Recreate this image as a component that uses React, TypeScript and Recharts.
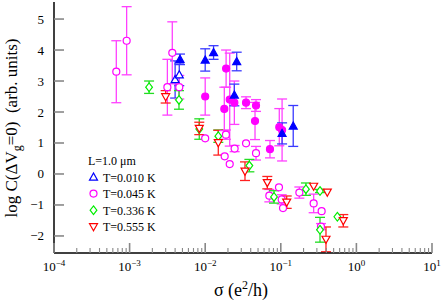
import React from 'react';
import { ScatterChart, Scatter, XAxis, YAxis, ErrorBar } from 'recharts';

type P = { x: number; y: number; e: number };

// T = 0.010 K (open = legend sample, filled = second data set)
const t010Open: P[] = [
  { x: 0.004, y: 3.05, e: 0.6 },
  { x: 0.00454, y: 3.2, e: 0.35 },
];
const t010Filled: P[] = [
  { x: 0.00464, y: 3.7, e: 0.17 },
  { x: 0.01, y: 3.68, e: 0.36 },
  { x: 0.0129, y: 3.92, e: 0.22 },
  { x: 0.0261, y: 3.63, e: 0.3 },
  { x: 0.0243, y: 2.55, e: 0.35 },
  { x: 0.104, y: 1.31, e: 0.34 },
  { x: 0.146, y: 1.55, e: 0.66 },
];
// T = 0.045 K
const t045Open: P[] = [
  { x: 0.000667, y: 3.3, e: 1.0 },
  { x: 0.000914, y: 4.3, e: 1.1 },
  { x: 0.00316, y: 2.8, e: 0.9 },
  { x: 0.00367, y: 3.91, e: 1.0 },
  { x: 0.00454, y: 2.8, e: 0.38 },
  { x: 0.01, y: 1.15, e: 0 },
  { x: 0.0188, y: 1.27, e: 0.15 },
  { x: 0.0181, y: 0.57, e: 0 },
  { x: 0.0211, y: 0.32, e: 0 },
  { x: 0.0245, y: 0.82, e: 0.1 },
  { x: 0.0347, y: 0.99, e: 0 },
  { x: 0.047, y: 0.67, e: 0.22 },
  { x: 0.0705, y: -0.7, e: 0.2 },
  { x: 0.0946, y: -0.43, e: 0 },
  { x: 0.1028, y: -0.82, e: 0.15 },
  { x: 0.107, y: -1.1, e: 0 },
  { x: 0.176, y: -0.6, e: 0.18 },
  { x: 0.272, y: -0.95, e: 0.3 },
  { x: 0.347, y: -1.2, e: 0 },
  { x: 0.34, y: -1.7, e: 0.1 },
];
const t045Filled: P[] = [
  { x: 0.01, y: 2.5, e: 0.6 },
  { x: 0.0189, y: 3.4, e: 0.6 },
  { x: 0.0179, y: 2.1, e: 0.7 },
  { x: 0.0211, y: 2.4, e: 1.5 },
  { x: 0.0243, y: 2.3, e: 0.7 },
  { x: 0.0347, y: 2.3, e: 0.19 },
  { x: 0.047, y: 2.21, e: 0.19 },
  { x: 0.0456, y: 1.71, e: 0.6 },
  { x: 0.0719, y: 0.8, e: 0.28 },
  { x: 0.0955, y: 1.51, e: 0.6 },
  { x: 0.104, y: 1.42, e: 1.0 },
];
// T = 0.336 K
const t336: P[] = [
  { x: 0.00181, y: 2.8, e: 0.2 },
  { x: 0.0045, y: 2.39, e: 0.3 },
  { x: 0.00835, y: 1.45, e: 0.33 },
  { x: 0.0149, y: 1.22, e: 0.2 },
  { x: 0.0384, y: 0.27, e: 0.2 },
  { x: 0.0813, y: -0.74, e: 0.2 },
  { x: 0.215, y: -0.49, e: 0.2 },
  { x: 0.33, y: -0.55, e: 0.05 },
  { x: 0.33, y: -1.8, e: 0.4 },
  { x: 0.56, y: -1.38, e: 0 },
];
// T = 0.555 K
const t555: P[] = [
  { x: 0.003, y: 2.49, e: 0.2 },
  { x: 0.00835, y: 1.47, e: 0.2 },
  { x: 0.0149, y: 1.01, e: 0.4 },
  { x: 0.0336, y: 0.09, e: 0.3 },
  { x: 0.0663, y: -0.28, e: 0.2 },
  { x: 0.1197, y: -0.91, e: 0.2 },
  { x: 0.272, y: -0.4, e: 0 },
  { x: 0.412, y: -0.59, e: 0 },
  { x: 0.396, y: -2.11, e: 0.4 },
  { x: 0.671, y: -1.51, e: 0.2 },
];

const xMajorTicks = [1e-4, 1e-3, 1e-2, 1e-1, 1, 10];
const xTickExponents = ['−4', '−3', '−2', '−1', '0', '1'];
const yTicks = [-2, -1, 0, 1, 2, 3, 4, 5];
const legendTitle = 'L=1.0 μm';
const legendLabels = ['T=0.010 K', 'T=0.045 K', 'T=0.336 K', 'T=0.555 K'];

const BLUE = '#0000ff';
const MAGENTA = '#ff00ff';
const GREEN = '#00ee00';
const RED = '#ff0000';
const FONT = '"Liberation Serif", "DejaVu Serif", serif';
const TICK = '#888888';

const xAllTicks: number[] = [];
xMajorTicks.forEach((m, i) => {
  xAllTicks.push(m);
  if (i < xMajorTicks.length - 1) for (let k = 2; k <= 9; k++) xAllTicks.push(m * k);
});

const majorIndex = (v: number) =>
  xMajorTicks.findIndex((m) => Math.abs(Math.log10(v) - Math.log10(m)) < 1e-6);

const XTick = (props: any) => {
  const { x, y, payload } = props;
  const idx = majorIndex(payload.value);
  const major = idx >= 0;
  return (
    <g>
      <line x1={x} x2={x} y1={y} y2={y - (major ? 10 : 5)} stroke={TICK} strokeWidth={major ? 1.6 : 1.1} />
      {major && (
        <text x={x} y={y + 18} textAnchor="middle" fontFamily={FONT} fontSize={13} fill="#000">
          <tspan>10</tspan>
          <tspan dy={-5} fontSize={9}>{xTickExponents[idx]}</tspan>
        </text>
      )}
    </g>
  );
};

const fmtY = (v: number) => (v < 0 ? '−' + Math.abs(v) : String(v));

const YTickL = (props: any) => {
  const { x, y, payload } = props;
  return (
    <g>
      <line x1={x} x2={x + 10} y1={y} y2={y} stroke={TICK} strokeWidth={1.6} />
      <text x={x - 10} y={y + 4.5} textAnchor="end" fontFamily={FONT} fontSize={13} fill="#000">
        {fmtY(payload.value)}
      </text>
    </g>
  );
};

const YTickR = (props: any) => {
  const { x, y } = props;
  return <line x1={x} x2={x - 10} y1={y} y2={y} stroke={TICK} strokeWidth={1.6} />;
};

const triUp = (cx: number, cy: number, s = 4) =>
  `${cx},${cy - s} ${cx - s},${cy + s * 0.78} ${cx + s},${cy + s * 0.78}`;
const triDown = (cx: number, cy: number, s = 4) =>
  `${cx - s},${cy - s * 0.78} ${cx + s},${cy - s * 0.78} ${cx},${cy + s}`;
const diamond = (cx: number, cy: number, s = 4.3) =>
  `${cx},${cy - s} ${cx + s * 0.78},${cy} ${cx},${cy + s} ${cx - s * 0.78},${cy}`;

const Marker = ({ kind, color, filled, cx, cy }: any) => {
  if (cx == null || cy == null) return null;
  const fill = filled ? color : '#fff';
  if (kind === 'circle')
    return <circle cx={cx} cy={cy} r={3.5} fill={fill} stroke={color} strokeWidth={1.2} />;
  if (kind === 'up')
    return <polygon points={triUp(cx, cy)} fill={fill} stroke={color} strokeWidth={1.2} />;
  if (kind === 'down')
    return <polygon points={triDown(cx, cy)} fill={fill} stroke={color} strokeWidth={1.2} />;
  return <polygon points={diamond(cx, cy)} fill={fill} stroke={color} strokeWidth={1.2} />;
};

const series = [
  { name: 't010o', data: t010Open, kind: 'up', color: BLUE, filled: false, bar: '#3a3aff' },
  { name: 't045o', data: t045Open, kind: 'circle', color: MAGENTA, filled: false, bar: '#ff40ff' },
  { name: 't336', data: t336, kind: 'diamond', color: GREEN, filled: false, bar: '#22dd22' },
  { name: 't555', data: t555, kind: 'down', color: RED, filled: false, bar: '#ff2020' },
  { name: 't045f', data: t045Filled, kind: 'circle', color: MAGENTA, filled: true, bar: '#ff40ff' },
  { name: 't010f', data: t010Filled, kind: 'up', color: BLUE, filled: true, bar: '#3a3aff' },
];

const legendKinds = ['up', 'circle', 'diamond', 'down'];
const legendColors = [BLUE, MAGENTA, GREEN, RED];

export default function App() {
  return (
    <div style={{ position: 'absolute', left: 0, top: 0, width: 443, height: 300, background: '#fff' }}>
      <ScatterChart width={443} height={300} margin={{ top: 2, right: 11, bottom: 0, left: 0 }}>
        <XAxis
          xAxisId={0}
          dataKey="x"
          type="number"
          scale="log"
          domain={[1e-4, 10]}
          allowDataOverflow
          ticks={xAllTicks}
          interval={0}
          tick={<XTick />}
          tickLine={false}
          tickSize={0}
          tickMargin={0}
          height={47}
          axisLine={{ stroke: '#000', strokeWidth: 1.5 }}
        />
        <XAxis
          xAxisId="top"
          orientation="top"
          type="number"
          scale="log"
          domain={[1e-4, 10]}
          allowDataOverflow
          tick={false}
          tickLine={false}
          height={0}
          axisLine={{ stroke: '#000', strokeWidth: 1.8 }}
        />
        <YAxis
          yAxisId={0}
          dataKey="y"
          type="number"
          domain={[-2.55, 5.55]}
          allowDataOverflow
          ticks={yTicks}
          interval={0}
          tick={<YTickL />}
          tickLine={false}
          tickSize={0}
          tickMargin={0}
          width={54}
          axisLine={{ stroke: '#000', strokeWidth: 1.5 }}
        />
        <YAxis
          yAxisId="right"
          orientation="right"
          type="number"
          domain={[-2.55, 5.55]}
          allowDataOverflow
          ticks={yTicks}
          interval={0}
          tick={<YTickR />}
          tickLine={false}
          tickSize={0}
          tickMargin={0}
          width={0}
          axisLine={{ stroke: '#000', strokeWidth: 1.5 }}
        />
        {series.map((s) => (
          <Scatter
            key={s.name}
            name={s.name}
            data={s.data}
            xAxisId={0}
            yAxisId={0}
            isAnimationActive={false}
            shape={(p: any) => <Marker kind={s.kind} color={s.color} filled={s.filled} cx={p.cx} cy={p.cy} />}
          >
            <ErrorBar dataKey="e" direction="y" width={5} stroke={s.bar} strokeWidth={1.3} />
          </Scatter>
        ))}
      </ScatterChart>
      <svg
        width={443}
        height={300}
        style={{ position: 'absolute', left: 0, top: 0, pointerEvents: 'none' }}
        fontFamily={FONT}
      >
        <text x={88} y={165} fontSize={12} fill="#000">{legendTitle}</text>
        {legendLabels.map((lab, i) => {
          const cy = 177 + i * 16.6;
          return (
            <g key={lab}>
              <Marker kind={legendKinds[i]} color={legendColors[i]} filled={false} cx={93.5} cy={cy} />
              <text x={103} y={cy + 4.5} fontSize={12} fill="#000">{lab}</text>
            </g>
          );
        })}
        <text x={241} y={296} textAnchor="middle" fontSize={18} fill="#000">
          σ (e<tspan dy={-7} fontSize={12}>2</tspan>
          <tspan dy={7}>/h)</tspan>
        </text>
        <text
          transform="translate(17,128) rotate(-90)"
          textAnchor="middle"
          fontSize={17}
          fill="#000"
          style={{ whiteSpace: 'pre' }}
        >
          log C(ΔV<tspan dy={4} fontSize={12}>g</tspan>
          <tspan dy={-4}>=0)  (arb. units)</tspan>
        </text>
      </svg>
    </div>
  );
}
